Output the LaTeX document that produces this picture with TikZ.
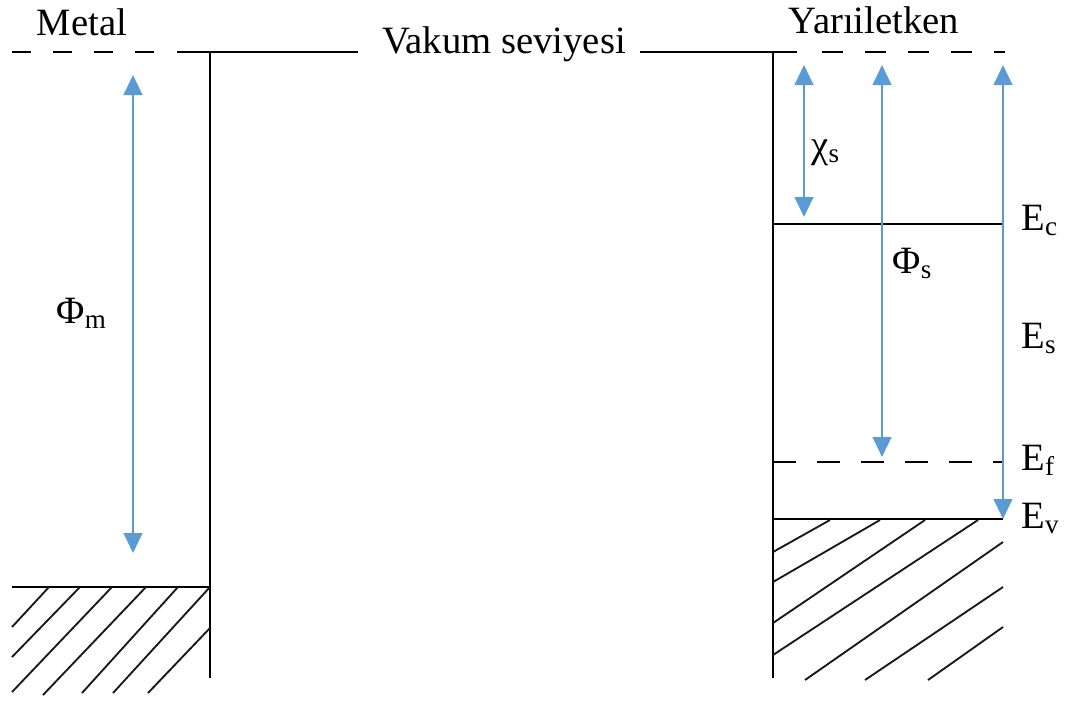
\documentclass[tikz,border=0pt]{standalone}
\usepackage{fontspec}
\setmainfont{Liberation Serif}
\usetikzlibrary{arrows.meta}
\definecolor{cgap}{RGB}{91,155,213}

\begin{document}
\begin{tikzpicture}[x=0.375pt,y=-0.375pt,
  lvl/.style={black,line width=0.8pt},
  hatchln/.style={black!90,line width=0.7pt},
  gaparrow/.style={cgap,line width=0.8pt,{Triangle[length=7.5pt,width=7pt]}-{Triangle[length=7.5pt,width=7pt]}},
  lbl/.style={font=\fontsize{14.5}{17}\selectfont,inner sep=0pt}]
\useasboundingbox (0,0) rectangle (1068,700);
% vakum seviyesi
\draw[lvl,dash pattern=on 7.1pt off 8.3pt] (12,52) -- (155,52);
\draw[lvl] (177,52) -- (358,52);
\draw[lvl] (640,52) -- (797,52);
\draw[lvl,dash pattern=on 7.9pt off 8.2pt] (822,52) -- (1005,52);
\node[lbl,anchor=base] (vakum) at (504,53) {Vakum seviyesi};
% metal
\draw[lvl] (210,52) -- (210,678);
\draw[lvl] (12,587) -- (210,587);
\foreach \xa/\ya/\xb/\yb in {49/587/12/627, 80/587/12/657, 112/587/12/692, 146/587/43/695,
  178/587/82/693, 210/587/113/693, 210/628/148/693}
  \draw[hatchln] (\xa,\ya) -- (\xb,\yb);
\node[lbl,anchor=base] (metal) at (82,35) {Metal};
% yariiletken
\draw[lvl] (773,52) -- (773,678);
\draw[lvl] (773,224) -- (1003,224);
\draw[lvl,dash pattern=on 8.6pt off 7.9pt] (773,462) -- (1003,462);
\draw[lvl] (773,519) -- (1003,519);
\foreach \xa/\ya/\xb/\yb in {830/520/773/552, 880/520/773/582, 925/520/773/623, 978/520/773/655,
  1003/542/805/680, 1003/587/865/680, 1003/627/928/680}
  \draw[hatchln] (\xa,\ya) -- (\xb,\yb);
\node[lbl,anchor=base] (yari) at (874,33) {Yarıiletken};
% oklar
\coordinate (phim top) at (133,75);
\coordinate (phim bot) at (133,553);
\coordinate (chi top) at (804,65);
\coordinate (chi bot) at (804,217);
\coordinate (phis top) at (882,65);
\coordinate (phis bot) at (882,457);
\coordinate (es top) at (1003,65);
\coordinate (es bot) at (1003,519);
\draw[gaparrow] (phim top) -- (phim bot);
\draw[gaparrow] (chi top) -- (chi bot);
\draw[gaparrow] (phis top) -- (phis bot);
\draw[gaparrow] (es top) -- (es bot);
% etiketler
\node[lbl,anchor=base west] (phim) at (56,323) {Φ\textsubscript{m}};
\node[lbl,anchor=base west] (chis) at (811,157) {χ\textsubscript{s}};
\node[lbl,anchor=base west] (phis) at (892,273) {Φ\textsubscript{s}};
\node[lbl,anchor=base west] (ec) at (1021,230) {E\textsubscript{c}};
\node[lbl,anchor=base west] (es) at (1021,348) {E\textsubscript{s}};
\node[lbl,anchor=base west] (ef) at (1021,470) {E\textsubscript{f}};
\node[lbl,anchor=base west] (ev) at (1021,528) {E\textsubscript{v}};
\end{tikzpicture}
\end{document}
